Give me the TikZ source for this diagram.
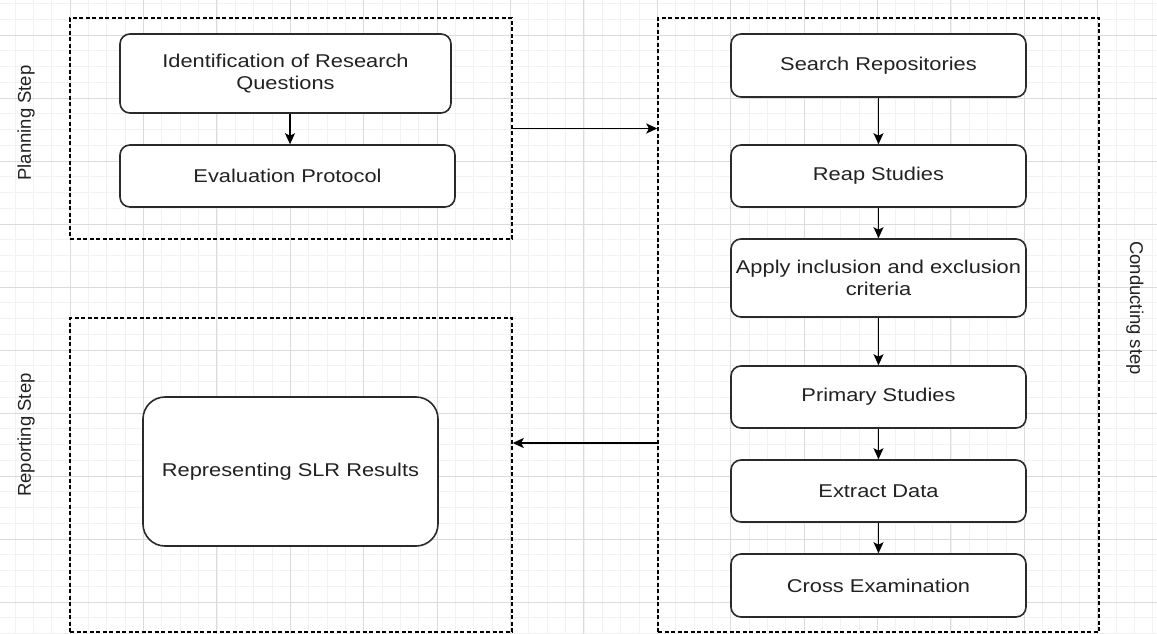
\documentclass[tikz,border=0pt]{standalone}
\usepackage{fontspec}
\setmainfont{Liberation Sans}[FakeStretch=1.18]
\newfontfamily\lblfont{Liberation Sans}
\usetikzlibrary{arrows.meta}
\definecolor{ink}{HTML}{222222}
\definecolor{edge}{HTML}{2A2A2A}
\tikzset{
  gridmajor/.style={draw=black!14, line width=0.8pt},
  gridminor/.style={draw=black!5, line width=0.6pt},
  stepbox/.style={draw=edge, line width=1.6pt, fill=white, rounded corners=10pt,
    align=center, text=ink, inner sep=0pt, minimum width=295pt,
    font=\fontsize{18.5}{22}\selectfont},
  container/.style={draw=black, line width=1.4pt, dash pattern=on 4pt off 2.5pt,
    inner sep=0pt},
  steplabel/.style={text=ink, font=\lblfont\fontsize{18.5}{22}\selectfont, inner sep=0pt},
  flow/.style={draw=black, line width=1.6pt, -{Stealth[length=11pt,width=10pt,inset=2.5pt]}}
}
\begin{document}
\begin{tikzpicture}[x=1pt,y=-1pt]
\useasboundingbox (0,0) rectangle (1157,634);
\fill[white] (0,0) rectangle (1157,634);
% grid
\foreach \i in {-4,...,63} \draw[gridminor] ({70+18.35*\i},0) -- ({70+18.35*\i},634);
\foreach \j in {-2,...,38} \draw[gridminor] (0,{35+15.75*\j}) -- (1157,{35+15.75*\j});
\foreach \i in {-1,...,15} \draw[gridmajor] ({70+73.4*\i},0) -- ({70+73.4*\i},634);
\foreach \j in {0,...,9} \draw[gridmajor] (0,{35+63*\j}) -- (1157,{35+63*\j});

% containers
\node[container, minimum width=442pt, minimum height=221pt] (plan) at (291,128.5) {};
\node[container, minimum width=442pt, minimum height=314pt] (rep) at (291,475) {};
\node[container, minimum width=441pt, minimum height=614pt] (cond) at (878.5,325) {};

% labels
\node[steplabel, rotate=90] (lplan) at (26,123) {Planning Step};
\node[steplabel, rotate=90] (lrep) at (26,435) {Reporting Step};
\node[steplabel, rotate=-90] (lcond) at (1135,308) {Conducting step};

% planning
\node[stepbox, minimum width=331pt, minimum height=79pt] (idq) at (285.5,73.5) {Identification of Research\\Questions};
\node[stepbox, minimum width=335pt, minimum height=62pt] (evp) at (287.5,176) {Evaluation Protocol};

% conducting
\node[stepbox, minimum height=63pt] (srch) at (878.5,65.5) {Search Repositories};
\node[stepbox, minimum height=62pt] (reap) at (878.5,176) {Reap Studies};
\node[stepbox, minimum height=78pt] (appl) at (878.5,278) {Apply inclusion and exclusion\\criteria};
\node[stepbox, minimum height=62pt] (prim) at (878.5,397) {Primary Studies};
\node[stepbox, minimum height=62pt] (extr) at (878.5,491) {Extract Data};
\node[stepbox, minimum height=63pt] (cross) at (878.5,585.5) {Cross Examination};

% reporting
\node[stepbox, minimum width=295pt, minimum height=149pt, rounded corners=22pt] (slr) at (290.5,471.5) {Representing SLR Results};

% arrows
\draw[flow] (idq.south -| 290,0) -- (evp.north -| 290,0);
\draw[flow] (srch) -- (reap);
\draw[flow] (reap) -- (appl);
\draw[flow] (appl) -- (prim);
\draw[flow] (prim) -- (extr);
\draw[flow] (extr) -- (cross);
\draw[flow] (plan.east) -- (cond.west |- plan.east);
\coordinate (back) at (658,443);
\draw[flow] (back) -- (rep.east |- back);
\end{tikzpicture}
\end{document}
